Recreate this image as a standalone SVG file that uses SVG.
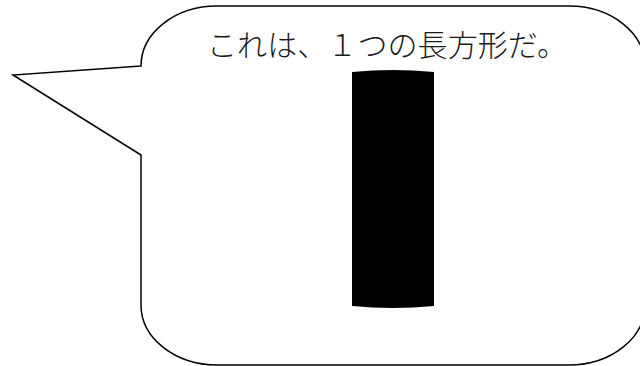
<svg xmlns="http://www.w3.org/2000/svg" width="640" height="366" viewBox="0 0 640 366">
  <style>
    .callout { fill: #ffffff; stroke: #000000; stroke-width: 1.5; stroke-linejoin: miter; }
    .bar { fill: #000000; stroke: none; }
    .label { font-family: "Liberation Serif", "Noto Sans CJK JP", serif; font-size: 30px; font-weight: 300; fill: #1a1a1a; }
  </style>
  <rect x="0" y="0" width="640" height="366" fill="#ffffff"/>
  <g id="callout">
    <path class="callout" d="M141,66 L13,75 L141,155 L141,305 A76,60 0 0 0 217,365 L569,365 A76,60 0 0 0 645,305 L645,66 A76,60 0 0 0 569,6 L217,6 A76,60 0 0 0 141,66 Z"/>
    <text class="label" x="207" y="56" textLength="360" lengthAdjust="spacing">これは、１つの長方形だ。</text>
  </g>
  <g id="rectangle">
    <path class="bar" d="M352,72 Q393,68 434,72 L434,306 Q393,310 352,306 Z"/>
  </g>
</svg>
